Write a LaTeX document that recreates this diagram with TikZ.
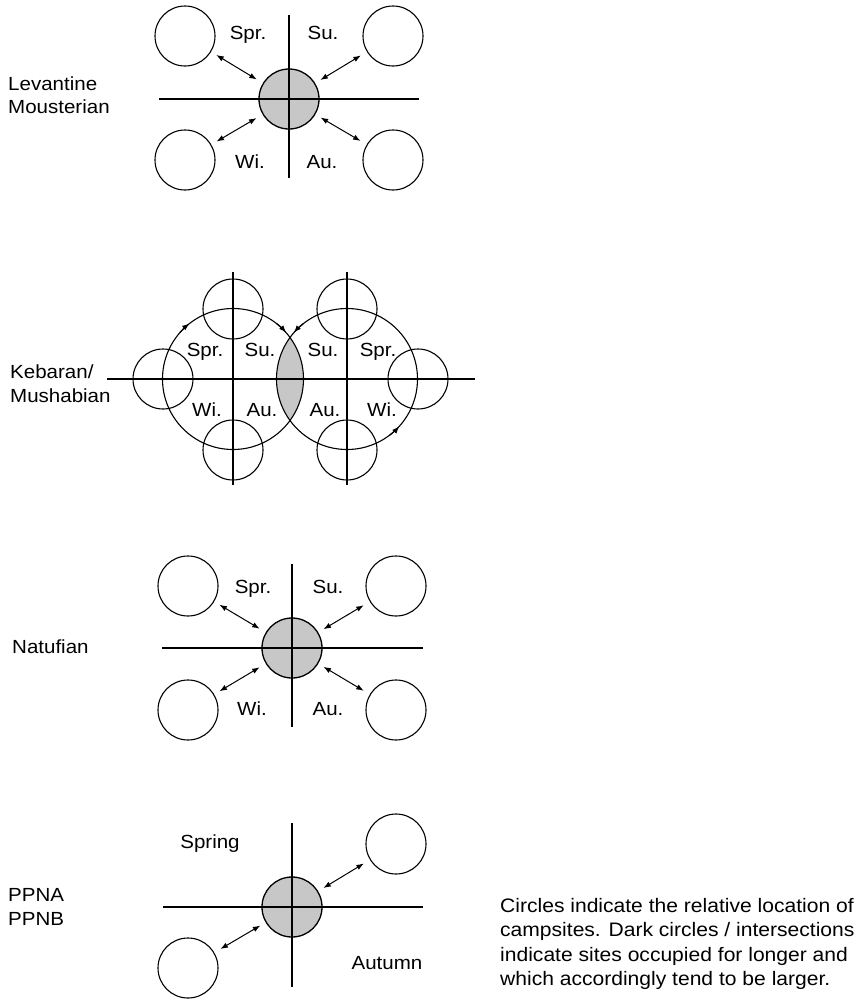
\documentclass[tikz,border=0pt]{standalone}
\usepackage{fontspec}
\setmainfont{Liberation Sans}[FakeStretch=1.08]
\usetikzlibrary{arrows.meta}
\begin{document}
\begin{tikzpicture}[x=1bp,y=-1bp,
  ln/.style={line width=1.1bp},
  site/.style={circle,draw,line width=1.1bp,minimum size=60bp,inner sep=0pt},
  base/.style={circle,draw,line width=1.3bp,fill=black!22,minimum size=60bp,inner sep=0pt},
  ring/.style={circle,draw,line width=1.1bp,minimum size=141bp,inner sep=0pt},
  link/.style={line width=1bp,{Latex[length=7.5bp,width=5.5bp]}-{Latex[length=7.5bp,width=5.5bp]},shorten <=6bp,shorten >=7bp},
  turn/.style={line width=1.1bp,-{Latex[length=7.5bp,width=5.5bp]}},
  lbl/.style={font=\fontsize{19bp}{23.5bp}\selectfont,inner sep=0pt,text height=13.7bp,text depth=0bp},
  era/.style={font=\fontsize{19bp}{23.5bp}\selectfont,inner sep=0pt,anchor=west,align=left}
]
\useasboundingbox (0,0) rectangle (862,999);

% ---------- Levantine Mousterian ----------
\node[era] (e1) at (8,95) {Levantine\\Mousterian};
\node[base] (c1) at (289,99) {};
\draw[ln] (289,15) -- (289,178);
\draw[ln] (159,99) -- (419,99);
\node[site] (a1) at (185,36) {};
\node[site] (b1) at (393,36) {};
\node[site] (d1) at (185,160) {};
\node[site] (f1) at (393,160) {};
\draw[link] (a1) -- (c1);
\draw[link] (c1) -- (b1);
\draw[link] (d1) -- (c1);
\draw[link] (c1) -- (f1);
\node[lbl] (s1) at (248,33) {Spr.};
\node[lbl] (u1) at (323,33) {Su.};
\node[lbl] (w1) at (250,162) {Wi.};
\node[lbl] (t1) at (322,162) {Au.};

% ---------- Kebaran / Mushabian ----------
\node[era] (e2) at (10,383.5) {Kebaran/\\Mushabian};
\begin{scope}
  \clip (233,379) circle[radius=70.5];
  \fill[black!22] (347,379) circle[radius=70.5];
\end{scope}
\node[ring] (kl) at (233,379) {};
\node[ring] (kr) at (347,379) {};
\draw[ln] (233,272) -- (233,485);
\draw[ln] (347,272) -- (347,485);
\draw[ln] (107,379) -- (475,379);
\node[site] (k1) at (233,309) {};
\node[site] (k2) at (163,379) {};
\node[site] (k3) at (233,450) {};
\node[site] (k4) at (347,309) {};
\node[site] (k5) at (418,379) {};
\node[site] (k6) at (347,450) {};
\draw[turn] (233,379) ++(-139:70.5) arc[start angle=-139,end angle=-128,radius=70.5];
\draw[turn] (233,379) ++(-52:70.5) arc[start angle=-52,end angle=-41,radius=70.5];
\draw[turn] (347,379) ++(-128:70.5) arc[start angle=-128,end angle=-139,radius=70.5];
\draw[turn] (347,379) ++(53:70.5) arc[start angle=53,end angle=42,radius=70.5];
\node[lbl] (s2) at (205,350) {Spr.};
\node[lbl] (u2) at (260,350) {Su.};
\node[lbl] (u3) at (323,350) {Su.};
\node[lbl] (s3) at (378,350) {Spr.};
\node[lbl] (w2) at (207,410) {Wi.};
\node[lbl] (t2) at (262,410) {Au.};
\node[lbl] (t3) at (325,410) {Au.};
\node[lbl] (w3) at (382,410) {Wi.};

% ---------- Natufian ----------
\node[era] (e3) at (12,647) {Natufian};
\node[base] (c3) at (292,648) {};
\draw[ln] (292,564) -- (292,727);
\draw[ln] (162,648) -- (423,648);
\node[site] (a3) at (188,586) {};
\node[site] (b3) at (396,586) {};
\node[site] (d3) at (188,710) {};
\node[site] (f3) at (396,710) {};
\draw[link] (a3) -- (c3);
\draw[link] (c3) -- (b3);
\draw[link] (d3) -- (c3);
\draw[link] (c3) -- (f3);
\node[lbl] (s4) at (253,587) {Spr.};
\node[lbl] (u4) at (328,587) {Su.};
\node[lbl] (w4) at (252,709) {Wi.};
\node[lbl] (t4) at (328,709) {Au.};

% ---------- PPNA / PPNB ----------
\node[era] (e4) at (8,907) {PPNA\\PPNB};
\node[base] (c4) at (292,907) {};
\draw[ln] (292,823) -- (292,987);
\draw[ln] (163,907) -- (423,907);
\node[site] (b4) at (396,844) {};
\node[site] (d4) at (188,968) {};
\draw[link] (c4) -- (b4);
\draw[link] (c4) -- (d4);
\node[lbl] (sp) at (210,842) {Spring};
\node[lbl] (au) at (387,963) {Autumn};

% ---------- note ----------
\node[anchor=west,align=left,inner sep=0pt,font=\fontsize{19.5bp}{24.5bp}\selectfont] (note) at (500,944)
  {Circles indicate the relative location of\\campsites. Dark circles / intersections\\indicate sites occupied for longer and\\which accordingly tend to be larger.};
\end{tikzpicture}
\end{document}
